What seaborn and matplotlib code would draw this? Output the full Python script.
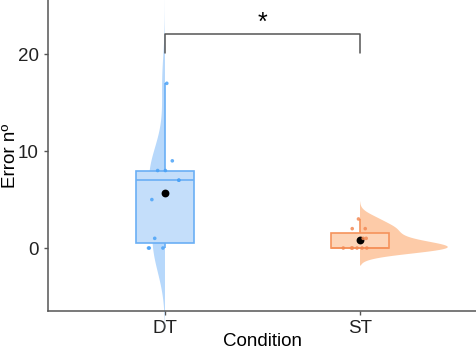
import numpy as np
import pandas as pd
import matplotlib
matplotlib.use("Agg")
import matplotlib.pyplot as plt
from matplotlib.patches import Rectangle
import seaborn as sns

# ─── Data ──────────────────────────────────────────────────────────
conditions = ["DT", "ST"]
dt_errors = [17, 9, 8, 8, 7, 7, 5, 1, 0, 0, 0]
st_errors = [3, 2, 2, 1, 1, 0, 0, 0, 0, 0, 0]
y_ticks = [0, 10, 20]
sig_label = "*"

# ─── Styles ──────────────────────────────────────────────────────────
fill_colors = {"DT": "#b7d8fb", "ST": "#fdcba8"}
box_fill = {"DT": "#c4defa", "ST": "#fdd5b8"}
edge_colors = {"DT": "#6aaff5", "ST": "#f5935c"}
point_colors = {"DT": "#4aa2f7", "ST": "#f38a55"}
violin_side = {"DT": -1, "ST": 1}   # which half of the violin is kept

df = pd.DataFrame({
    "Condition": ["DT"] * len(dt_errors) + ["ST"] * len(st_errors),
    "Errors": dt_errors + st_errors,
})

sns.set_theme(style="ticks")
plt.rcParams["font.family"] = ["Liberation Sans", "DejaVu Sans"]

fig, ax = plt.subplots(figsize=(4.77, 3.53), dpi=100)
ax.set_position([48 / 477, 1 - 311 / 353, 1 - 48 / 477, 311 / 353])

# ─── Half violins (full violin clipped to one side) ───────────────
sns.violinplot(data=df, x="Condition", y="Errors", order=conditions,
               inner=None, cut=3, bw_method="scott", bw_adjust=0.9,
               density_norm="area", width=0.9, color="#cccccc",
               linewidth=0, ax=ax)
for i, (coll, cond) in enumerate(zip(list(ax.collections), conditions)):
    coll.set_facecolor(fill_colors[cond])
    coll.set_edgecolor("none")
    side = violin_side[cond]
    x0 = i - 1 if side < 0 else i
    clip = Rectangle((x0, -100), 1, 200, transform=ax.transData)
    coll.set_clip_path(clip)

# ─── Boxes ──────────────────────────────────────────────────────────
sns.boxplot(data=df, x="Condition", y="Errors", hue="Condition",
            order=conditions, hue_order=conditions, width=0.3,
            palette=box_fill, saturation=1, showfliers=False,
            showcaps=False, linewidth=1.2, legend=False, ax=ax)
for cont, cond in zip(ax.containers, conditions):
    col = edge_colors[cond]
    for art in list(cont.boxes):
        art.set_edgecolor(col)
    for art in list(cont.medians) + list(cont.whiskers):
        art.set_color(col)

# ─── Raw points and means ───────────────────────────────────────────
np.random.seed(3)
sns.stripplot(data=df, x="Condition", y="Errors", hue="Condition",
              order=conditions, hue_order=conditions, jitter=0.09,
              size=2.6, palette=point_colors, alpha=0.85, linewidth=0,
              legend=False, ax=ax)

sns.pointplot(data=df, x="Condition", y="Errors", order=conditions,
              estimator="mean", errorbar=None, color="black",
              linestyle="none", marker="o", markersize=3.6, ax=ax)

# ─── Significance bracket ───────────────────────────────────────────
br_top, br_drop = 22.1, 2.0
ax.plot([0, 0, 1, 1], [br_top - br_drop, br_top, br_top, br_top - br_drop],
        color="#555555", linewidth=1.1, clip_on=False)
ax.text(0.5, br_top + 1.1, sig_label, ha="center", va="center",
        fontsize=18, color="black")

ax.set_xlim(-0.6, 1.6)
ax.set_ylim(-6.5, 25.6)
ax.set_yticks(y_ticks)
ax.set_xlabel("Condition", fontsize=13.5, color="black")
ax.set_ylabel("Error nº", fontsize=13.5, color="black")
ax.yaxis.set_label_coords(-0.068, 0.5)
ax.xaxis.set_label_coords(0.5, -0.07)
ax.tick_params(labelsize=13.5, colors="#555555", labelcolor="#222222",
               length=3, width=1)
sns.despine(ax=ax)
for s in ("left", "bottom"):
    ax.spines[s].set_color("#555555")
    ax.spines[s].set_linewidth(1.1)

fig.savefig("out.png", dpi=100)
